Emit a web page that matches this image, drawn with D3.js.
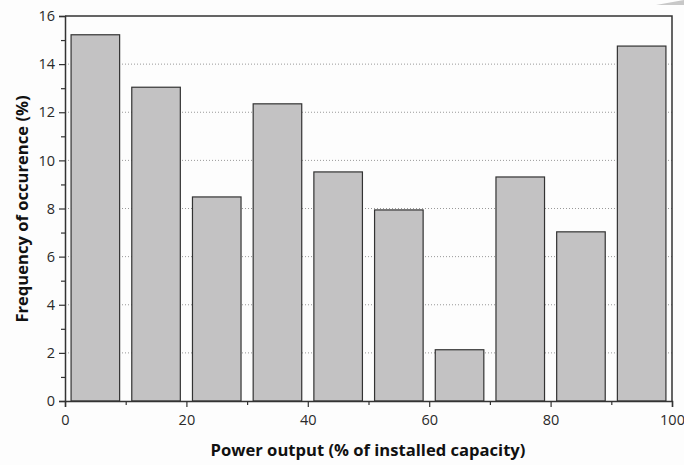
<!DOCTYPE html>
<html>
<head>
<meta charset="utf-8">
<script src="https://cdn.jsdelivr.net/npm/d3@7"></script>
<style>
  body { margin: 0; background: #fff; }
  svg { display: block; }
  .tick text { font-family: "Open Sans", sans-serif; font-size: 14.5px; fill: #2a2a2a; }
  .axis-title { font-family: "Open Sans", sans-serif; font-weight: bold; font-size: 16.6px; fill: #111; }
</style>
</head>
<body>
<svg id="chart" width="684" height="465"></svg>
<script>
// bin start (% of installed capacity)
const binStarts = [0, 10, 20, 30, 40, 50, 60, 70, 80, 90];
// frequency of occurence (%)
const frequencies = [15.22, 13.04, 8.48, 12.35, 9.52, 7.94, 2.13, 9.31, 7.03, 14.75];
const xTicks = [0, 20, 40, 60, 80, 100];
const xMinorTicks = [10, 30, 50, 70, 90];
const yTicks = [0, 2, 4, 6, 8, 10, 12, 14, 16];
const yMinorTicks = [1, 3, 5, 7, 9, 11, 13, 15];
const gridValues = [2, 4, 6, 8, 10, 12, 14];

const margin = { left: 65, right: 12, top: 16, bottom: 64 };
const width = 684, height = 465;

const svg = d3.select('#chart');

const x = d3.scaleLinear().domain([0, 100]).range([margin.left, width - margin.right]);
const y = d3.scaleLinear().domain([0, 16]).range([height - margin.bottom, margin.top]);

// background
svg.append('rect').attr('width', width).attr('height', height).attr('fill', '#fdfdfd');

// page curl corner
svg.append('path')
  .attr('d', `M ${width - 28},5 L ${width},0 L ${width},5 Z`)
  .attr('fill', '#c8c8c8');

// dotted grid
svg.append('g')
  .selectAll('line')
  .data(gridValues)
  .enter()
  .append('line')
  .attr('x1', x(0))
  .attr('x2', x(100))
  .attr('y1', (d) => y(d))
  .attr('y2', (d) => y(d))
  .attr('stroke', '#999')
  .attr('stroke-width', 1)
  .attr('stroke-dasharray', '1,2');

// bars
svg.append('g')
  .selectAll('rect')
  .data(binStarts)
  .enter()
  .append('rect')
  .attr('x', (d) => x(d + 1))
  .attr('width', (d) => x(d + 9) - x(d + 1))
  .attr('y', (d, i) => y(frequencies[i]))
  .attr('height', (d, i) => y(0) - y(frequencies[i]))
  .attr('fill', '#c3c2c3')
  .attr('stroke', '#333')
  .attr('stroke-width', 1.2);

// frame top/right
svg.append('path')
  .attr('d', `M ${x(0)},${y(16)} L ${x(100)},${y(16)} L ${x(100)},${y(0)}`)
  .attr('fill', 'none')
  .attr('stroke', '#333')
  .attr('stroke-width', 1.5);

// x axis
svg.append('g')
  .attr('transform', `translate(0,${y(0)})`)
  .call(d3.axisBottom(x).tickValues(xTicks).tickFormat(d3.format('d')).tickSize(6).tickPadding(8));
svg.append('g')
  .attr('transform', `translate(0,${y(0)})`)
  .call(d3.axisBottom(x).tickValues(xMinorTicks).tickFormat('').tickSize(4))
  .call((g) => g.select('.domain').remove());

// y axis
svg.append('g')
  .attr('transform', `translate(${x(0)},0)`)
  .call(d3.axisLeft(y).tickValues(yTicks).tickFormat(d3.format('d')).tickSize(6).tickPadding(4));
svg.append('g')
  .attr('transform', `translate(${x(0)},0)`)
  .call(d3.axisLeft(y).tickValues(yMinorTicks).tickFormat('').tickSize(4))
  .call((g) => g.select('.domain').remove());

svg.selectAll('.domain').attr('stroke', '#333').attr('stroke-width', 1.5);
svg.selectAll('.tick line').attr('stroke', '#333').attr('stroke-width', 1.2);

// axis titles
svg.append('text')
  .attr('class', 'axis-title')
  .attr('x', 368)
  .attr('y', 456)
  .attr('text-anchor', 'middle')
  .text('Power output (% of installed capacity)');

svg.append('text')
  .attr('class', 'axis-title')
  .attr('transform', 'translate(28,209) rotate(-90)')
  .attr('text-anchor', 'middle')
  .text('Frequency of occurence (%)');
</script>
</body>
</html>
